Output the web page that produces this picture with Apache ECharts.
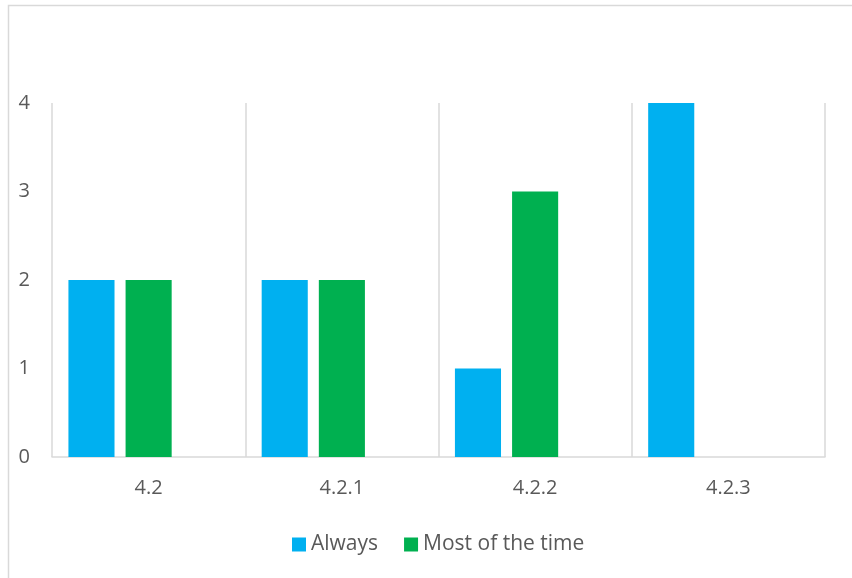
<!DOCTYPE html>
<html>
<head>
<meta charset="utf-8">
<script src="https://cdn.jsdelivr.net/npm/echarts@6/dist/echarts.min.js"></script>
<style>
  html, body { margin: 0; padding: 0; background: #fff; }
  #chart { width: 852px; height: 578px; }
</style>
</head>
<body>
<div id="chart"></div>
<script>
// Response frequency per item
const categories = ['4.2', '4.2.1', '4.2.2', '4.2.3'];
const always = [2, 2, 1, 4];
const mostOfTheTime = [2, 2, 3, 0];
const sometimes = [0, 0, 0, 0];
const yTicks = [0, 1, 2, 3, 4];

const textColor = '#595959';
const lineColor = '#d9d9d9';
const font = '"Open Sans", "Noto Sans", sans-serif';

const chart = echarts.init(document.getElementById('chart'), null, { renderer: 'canvas' });

chart.setOption({
  backgroundColor: '#ffffff',
  animation: false,
  graphic: [{
    type: 'rect',
    shape: { x: 8.5, y: 5.5, width: 1000, height: 1000 },
    style: { fill: 'none', stroke: lineColor, lineWidth: 1.5 },
    silent: true,
    z: -1
  }],
  grid: { left: 52, right: 27, top: 103, bottom: 121, containLabel: false },
  legend: {
    data: ['Always', 'Most of the time'],
    left: 287,
    top: 529,
    itemWidth: 14,
    itemHeight: 14,
    itemGap: 26,
    icon: 'rect',
    textStyle: { color: textColor, fontSize: 21, fontFamily: font }
  },
  xAxis: {
    type: 'category',
    data: categories,
    axisLine: { show: true, lineStyle: { color: lineColor, width: 1.5 } },
    axisTick: { show: false },
    axisLabel: { color: textColor, fontSize: 20, fontFamily: font, margin: 21 },
    splitLine: { show: true, lineStyle: { color: lineColor, width: 1.5 } }
  },
  yAxis: {
    type: 'value',
    min: yTicks[0],
    max: yTicks[yTicks.length - 1],
    interval: 1,
    axisLine: { show: false },
    axisTick: { show: false },
    splitLine: { show: false },
    axisLabel: { color: textColor, fontSize: 20, fontFamily: font, margin: 22 }
  },
  series: [
    {
      name: 'Always', type: 'bar', data: always,
      itemStyle: { color: '#00B0F0' },
      barGap: '24%', barCategoryGap: '17%'
    },
    {
      name: 'Most of the time', type: 'bar', data: mostOfTheTime,
      itemStyle: { color: '#00B050' }
    },
    {
      name: 'Sometimes', type: 'bar', data: sometimes,
      itemStyle: { color: '#A5A5A5' }
    }
  ]
});
</script>
</body>
</html>
